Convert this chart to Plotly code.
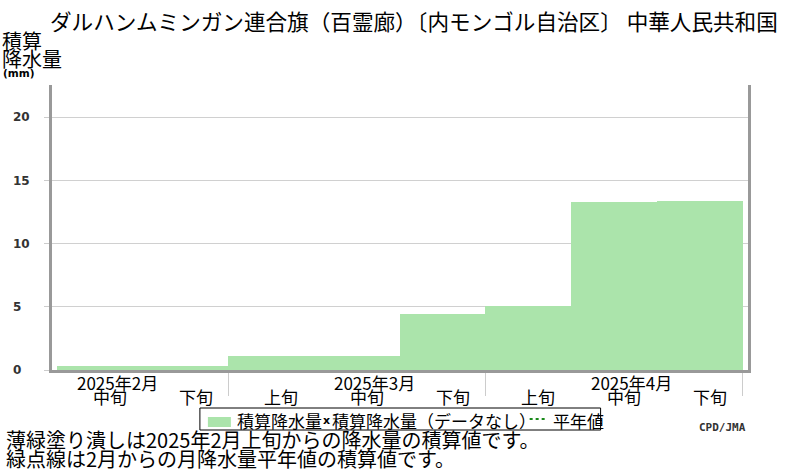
import plotly.graph_objects as go

# ---- data ----
dekad_labels = ["中旬", "下旬", "上旬", "中旬", "下旬", "上旬", "中旬", "下旬"]
dekad_months = ["2025年2月", "2025年2月", "2025年3月", "2025年3月", "2025年3月",
                "2025年4月", "2025年4月", "2025年4月"]
month_labels = ["2025年2月", "2025年3月", "2025年4月"]
cum_precip = [0.34, 0.34, 1.13, 1.13, 4.43, 5.05, 13.28, 13.36]
y_ticks = [0, 5, 10, 15, 20]

title_text = "ダルハンムミンガン連合旗（百霊廊）〔内モンゴル自治区〕 中華人民共和国"
note1 = "薄緑塗り潰しは2025年2月上旬からの降水量の積算値です。"
note2 = "緑点線は2月からの月降水量平年値の積算値です。"

# ---- style ----
JP = "Noto Sans CJK JP"
FILL = "#abe4ab"
AXIS = "#999999"
GRID = "#d0d0d0"
W, H = 800, 470
L, R, T, B = 52, 51.5, 85, 100
PW, PH = W - L - R, H - T - B


def px(xp):
    return (xp - L) / PW


def py(yp):
    return (H - B - yp) / PH


xs = [i + 0.5 for i in range(len(cum_precip))]

fig = go.Figure()
fig.add_trace(go.Bar(x=xs, y=cum_precip, width=1.0, marker=dict(color=FILL, line=dict(width=0)),
                     name="積算降水量", showlegend=False, hoverinfo="skip"))

# month boundaries (separator ticks)
bounds = [i for i in range(1, len(dekad_months)) if dekad_months[i] != dekad_months[i - 1]] + [len(dekad_months)]

ann = []
for i, lab in enumerate(dekad_labels):
    ann.append(dict(x=i + 0.62, y=py(396), xref="x", yref="paper", text=lab, showarrow=False,
                    xanchor="center", yanchor="middle", font=dict(family=JP, size=17, color="#000")))
for m in month_labels:
    idx = [i for i in range(len(dekad_months)) if dekad_months[i] == m and dekad_labels[i] == "中旬"][0]
    ann.append(dict(x=idx + 0.71, y=py(382), xref="x", yref="paper", text=m, showarrow=False,
                    xanchor="center", yanchor="middle", font=dict(family=JP, size=17, color="#000")))

# y-axis title
ann.append(dict(x=px(0), y=py(41), xref="paper", yref="paper", text="積算", showarrow=False,
                xanchor="left", yanchor="middle", font=dict(family=JP, size=20, color="#000")))
ann.append(dict(x=px(0), y=py(59), xref="paper", yref="paper", text="降水量", showarrow=False,
                xanchor="left", yanchor="middle", font=dict(family=JP, size=20, color="#000")))
ann.append(dict(x=px(1), y=py(73), xref="paper", yref="paper", text="(mm)", showarrow=False,
                xanchor="left", yanchor="middle", font=dict(family="DejaVu Sans", size=10.5, color="#000", weight="bold")))

# legend (drawn)
ann.append(dict(x=px(235), y=py(420), xref="paper", yref="paper", text="積算降水量", showarrow=False,
                xanchor="left", yanchor="middle", font=dict(family=JP, size=17, color="#000")))
ann.append(dict(x=px(321), y=py(420), xref="paper", yref="paper", text="x", showarrow=False,
                xanchor="left", yanchor="middle", font=dict(family="DejaVu Sans", size=11, color="#000", weight="bold")))
ann.append(dict(x=px(330), y=py(420), xref="paper", yref="paper", text="積算降水量（データなし）", showarrow=False,
                xanchor="left", yanchor="middle", font=dict(family=JP, size=17, color="#000")))
ann.append(dict(x=px(551), y=py(420), xref="paper", yref="paper", text="平年値", showarrow=False,
                xanchor="left", yanchor="middle", font=dict(family=JP, size=17, color="#000")))

# notes
ann.append(dict(x=px(4), y=py(440), xref="paper", yref="paper", text=note1, showarrow=False,
                xanchor="left", yanchor="middle", font=dict(family=JP, size=20, color="#000")))
ann.append(dict(x=px(4), y=py(458), xref="paper", yref="paper", text=note2, showarrow=False,
                xanchor="left", yanchor="middle", font=dict(family=JP, size=20, color="#000")))
ann.append(dict(x=px(748), y=py(427), xref="paper", yref="paper", text="CPD/JMA", showarrow=False,
                xanchor="right", yanchor="middle", font=dict(family="DejaVu Sans Mono", size=11, color="#333", weight="bold")))

shapes = [
    dict(type="rect", xref="paper", yref="paper", x0=px(200), x1=px(601), y0=py(408), y1=py(430),
         line=dict(color="#000", width=1), fillcolor="white", layer="below"),
    dict(type="rect", xref="paper", yref="paper", x0=px(208), x1=px(231), y0=py(417), y1=py(427),
         line=dict(width=0), fillcolor=FILL),
    dict(type="line", xref="paper", yref="paper", x0=px(530), x1=px(548), y0=py(419), y1=py(419),
         line=dict(color="#1a8a1a", width=2, dash="dot")),
]

fig.update_layout(
    width=W, height=H,
    margin=dict(l=L, r=R, t=T, b=B, pad=0),
    paper_bgcolor="white", plot_bgcolor="white",
    bargap=0, showlegend=False,
    title=dict(text=title_text, xref="container", yref="container", x=50 / W, xanchor="left",
               y=1 - 22 / H, yanchor="middle", font=dict(family=JP, size=21.6, color="#000")),
    xaxis=dict(range=[-0.054, 8.064], showgrid=False, zeroline=False,
               showline=True, linecolor=AXIS, linewidth=3, mirror=False,
               tickvals=bounds, ticks="outside", ticklen=23, tickcolor="#cccccc", tickwidth=1,
               showticklabels=False, fixedrange=True),
    yaxis=dict(range=[0, 22.55], showgrid=True, gridcolor=GRID, gridwidth=1, zeroline=False,
               showline=True, linecolor=AXIS, linewidth=3, mirror=True,
               tickvals=y_ticks, ticktext=[(str(v) if v >= 10 else str(v) + "\u2007") for v in y_ticks],
               ticks="outside", ticklen=5, tickcolor="#cccccc", tickwidth=1,
               ticklabelstandoff=12,
               tickfont=dict(family="DejaVu Sans", size=12, color="#333", weight="bold"), fixedrange=True),
    annotations=ann, shapes=shapes,
)

fig.write_html("out.html", config={"displayModeBar": False},
               post_script="document.body.style.margin='0px';document.body.style.padding='0px';")
